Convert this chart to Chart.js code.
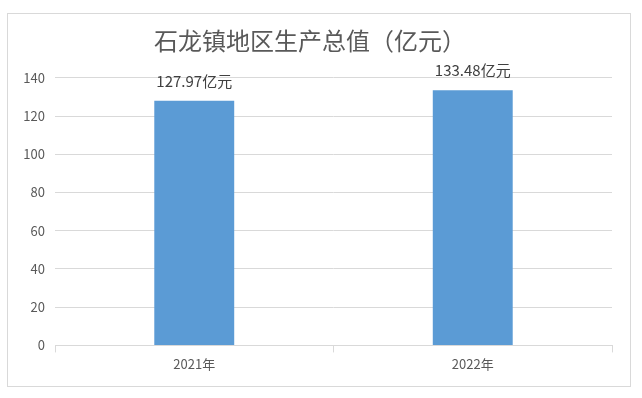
<!DOCTYPE html>
<html>
<head>
<meta charset="utf-8">
<script src="https://cdn.jsdelivr.net/npm/chart.js@4"></script>
<style>
  body { margin: 0; background: #fff; }
  #box {
    position: absolute;
    left: 7px; top: 13px;
    width: 624px; height: 374px;
    box-sizing: border-box;
    border: 1px solid #d9d9d9;
  }
</style>
</head>
<body>
<div id="box"><canvas id="chart"></canvas></div>
<script>
// 数据
const categories = ["2021年", "2022年"];
const values = [127.97, 133.48];
const unit = "亿元";
const yTicks = [0, 20, 40, 60, 80, 100, 120, 140];

const fontFamily = '"Noto Sans CJK SC", "Noto Sans", sans-serif';

// 柱顶数值标签
const valueLabels = {
  id: "valueLabels",
  afterDatasetsDraw(chart) {
    const ctx = chart.ctx;
    const meta = chart.getDatasetMeta(0);
    ctx.save();
    ctx.font = "15px " + fontFamily;
    ctx.fillStyle = "#404040";
    ctx.textAlign = "center";
    ctx.textBaseline = "bottom";
    meta.data.forEach((bar, i) => {
      ctx.fillText(values[i] + unit, bar.x, bar.y - 12);
    });
    ctx.restore();
  },
};

const ctx = document.querySelector("#chart").getContext("2d");
new Chart(ctx, {
  type: "bar",
  data: {
    labels: categories,
    datasets: [
      {
        data: values,
        backgroundColor: "#5b9bd5",
        categoryPercentage: 1,
        barPercentage: 0.287,
      },
    ],
  },
  options: {
    responsive: true,
    maintainAspectRatio: false,
    animation: false,
    layout: { padding: { left: 0, right: 18, top: 0, bottom: 10 } },
    plugins: {
      legend: { display: false },
      tooltip: { enabled: false },
      title: {
        display: true,
        text: "石龙镇地区生产总值（亿元）",
        color: "#595959",
        font: { family: fontFamily, size: 24, weight: "normal" },
        padding: { top: 12, bottom: 23 },
      },
    },
    scales: {
      x: {
        grid: {
          display: true,
          drawOnChartArea: false,
          tickLength: 7,
          color: "#d9d9d9",
        },
        border: { color: "#d9d9d9" },
        ticks: {
          color: "#595959",
          padding: 4,
          font: { family: fontFamily, size: 13 },
        },
      },
      y: {
        min: 0,
        max: 140,
        afterBuildTicks: (scale) => {
          scale.ticks = yTicks.map((v) => ({ value: v }));
        },
        afterFit: (scale) => {
          scale.width = 47;
        },
        grid: { color: "#d9d9d9", drawTicks: false },
        border: { display: false },
        ticks: {
          color: "#595959",
          padding: 10,
          font: { family: fontFamily, size: 13 },
        },
      },
    },
  },
  plugins: [valueLabels],
});
</script>
</body>
</html>
